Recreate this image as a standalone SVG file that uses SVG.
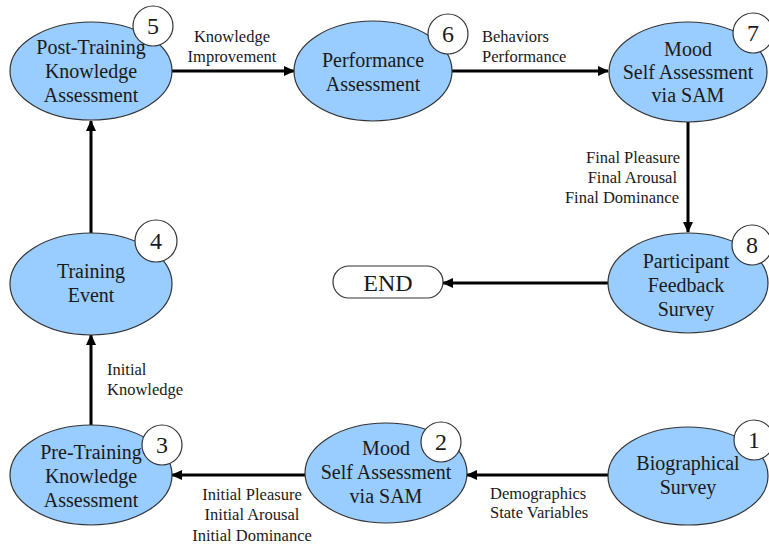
<svg xmlns="http://www.w3.org/2000/svg" width="769" height="548" viewBox="0 0 769 548">
<style>
.bg{fill:#ffffff}
.node ellipse{fill:#99ccff;stroke:#333;stroke-width:1.2}
.num circle{fill:#fff;stroke:#333;stroke-width:1.2}
.nt{font-family:"Liberation Serif","Times New Roman",serif;font-size:20px;fill:#1a1a1a;text-anchor:middle}
.nn{font-family:"Liberation Serif","Times New Roman",serif;font-size:24px;fill:#1a1a1a;text-anchor:middle}
.lb{font-family:"Liberation Serif","Times New Roman",serif;font-size:16.5px;fill:#1a1a1a}
.conn line{stroke:#000;stroke-width:3;marker-end:url(#ah)}
</style>
<defs>
<marker id="ah" markerUnits="userSpaceOnUse" markerWidth="11" markerHeight="10" refX="10" refY="5" orient="auto">
<path d="M0,0 L11,5 L0,10 z" fill="#000"/>
</marker>
</defs>
<rect class="bg" width="769" height="548"/>
<g id="connectors" class="conn">
<line x1="172" y1="71" x2="294" y2="71"/>
<line x1="452" y1="71" x2="608" y2="71"/>
<line x1="688" y1="122" x2="688" y2="232"/>
<line x1="608" y1="283" x2="443" y2="283"/>
<line x1="91" y1="233" x2="91" y2="121"/>
<line x1="91" y1="425" x2="91" y2="335"/>
<line x1="305" y1="475" x2="172" y2="475"/>
<line x1="609" y1="475" x2="467" y2="475"/>
</g>
<g id="labels">
<text class="lb" x="232" y="42" text-anchor="middle">Knowledge</text>
<text class="lb" x="232" y="62" text-anchor="middle">Improvement</text>
<text class="lb" x="482" y="42">Behaviors</text>
<text class="lb" x="482" y="62">Performance</text>
<text class="lb" x="680" y="163" text-anchor="end">Final Pleasure</text>
<text class="lb" x="677" y="183" text-anchor="end">Final Arousal</text>
<text class="lb" x="679" y="203" text-anchor="end">Final Dominance</text>
<text class="lb" x="107" y="375">Initial</text>
<text class="lb" x="107" y="395">Knowledge</text>
<text class="lb" x="252" y="500" text-anchor="middle">Initial Pleasure</text>
<text class="lb" x="252" y="520" text-anchor="middle">Initial Arousal</text>
<text class="lb" x="252" y="541" text-anchor="middle">Initial Dominance</text>
<text class="lb" x="490" y="499">Demographics</text>
<text class="lb" x="490" y="518">State Variables</text>
</g>
<g id="node5" class="node">
<ellipse cx="91" cy="71" rx="81" ry="49"/>
<text class="nt" x="91" y="54">Post-Training</text>
<text class="nt" x="91" y="78">Knowledge</text>
<text class="nt" x="91" y="102">Assessment</text>
<g class="num"><circle cx="153" cy="26" r="20"/><text class="nn" x="153" y="34">5</text></g>
</g>
<g id="node6" class="node">
<ellipse cx="373" cy="71" rx="79" ry="50"/>
<text class="nt" x="373" y="67">Performance</text>
<text class="nt" x="373" y="91">Assessment</text>
<g class="num"><circle cx="448" cy="34" r="20"/><text class="nn" x="448" y="42">6</text></g>
</g>
<g id="node7" class="node">
<ellipse cx="688" cy="72" rx="79" ry="50"/>
<text class="nt" x="688" y="56">Mood</text>
<text class="nt" x="688" y="79">Self Assessment</text>
<text class="nt" x="688" y="102">via SAM</text>
<g class="num"><circle cx="753" cy="33" r="20"/><text class="nn" x="753" y="41">7</text></g>
</g>
<g id="node8" class="node">
<ellipse cx="688" cy="283" rx="80" ry="50"/>
<text class="nt" x="686" y="268">Participant</text>
<text class="nt" x="686" y="292">Feedback</text>
<text class="nt" x="686" y="316">Survey</text>
<g class="num"><circle cx="752" cy="245" r="20"/><text class="nn" x="752" y="253">8</text></g>
</g>
<g id="end">
<rect x="333" y="266" width="110" height="32" rx="16" ry="16" fill="#fff" stroke="#333" stroke-width="1.2"/>
<text class="nn" x="388" y="291">END</text>
</g>
<g id="node4" class="node">
<ellipse cx="91" cy="284" rx="81" ry="51"/>
<text class="nt" x="91" y="278">Training</text>
<text class="nt" x="91" y="302">Event</text>
<g class="num"><circle cx="156" cy="241" r="21"/><text class="nn" x="156" y="249">4</text></g>
</g>
<g id="node3" class="node">
<ellipse cx="91" cy="475" rx="81" ry="50"/>
<text class="nt" x="91" y="459">Pre-Training</text>
<text class="nt" x="91" y="483">Knowledge</text>
<text class="nt" x="91" y="507">Assessment</text>
<g class="num"><circle cx="162" cy="445" r="20"/><text class="nn" x="162" y="453">3</text></g>
</g>
<g id="node2" class="node">
<ellipse cx="386" cy="473" rx="81" ry="50"/>
<text class="nt" x="386" y="455">Mood</text>
<text class="nt" x="386" y="479">Self Assessment</text>
<text class="nt" x="386" y="503">via SAM</text>
<g class="num"><circle cx="441" cy="442" r="20"/><text class="nn" x="441" y="450">2</text></g>
</g>
<g id="node1" class="node">
<ellipse cx="688" cy="476" rx="80" ry="49"/>
<text class="nt" x="688" y="470">Biographical</text>
<text class="nt" x="688" y="494">Survey</text>
<g class="num"><circle cx="754" cy="440" r="20"/><text class="nn" x="754" y="448">1</text></g>
</g>
</svg>
